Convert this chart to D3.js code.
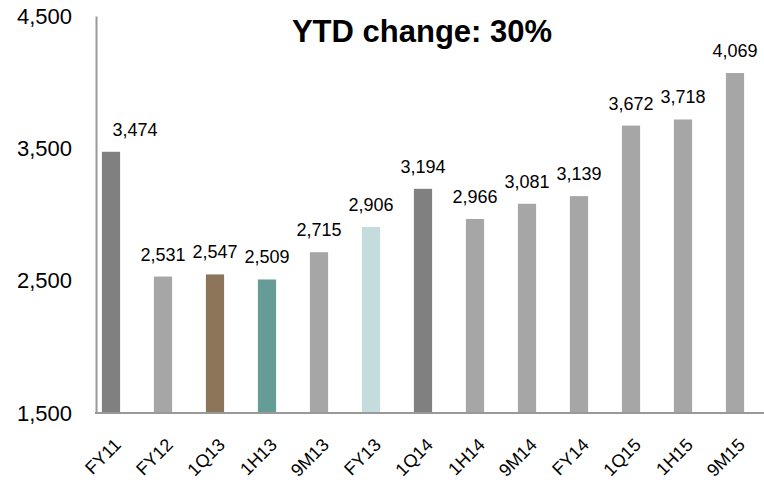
<!DOCTYPE html>
<html>
<head>
<meta charset="utf-8">
<script src="https://cdn.jsdelivr.net/npm/d3@7"></script>
<style>
  body { margin: 0; background: #fff; }
  text { font-family: "Liberation Sans", Arial, sans-serif; }
</style>
</head>
<body>
<div id="chart"></div>
<script>
// data
const periods = ["FY11", "FY12", "1Q13", "1H13", "9M13", "FY13", "1Q14", "1H14", "9M14", "FY14", "1Q15", "1H15", "9M15"];
const values = [3474, 2531, 2547, 2509, 2715, 2906, 3194, 2966, 3081, 3139, 3672, 3718, 4069];
const barColors = ["#808080", "#a6a6a6", "#8c7558", "#669c98", "#a6a6a6", "#c4dcdb", "#808080", "#a6a6a6", "#a6a6a6", "#a6a6a6", "#a6a6a6", "#a6a6a6", "#a6a6a6"];
const yTicks = [1500, 2500, 3500, 4500];
const title = "YTD change: 30%";

const width = 764, height = 480;

const svg = d3.select("#chart")
  .append("svg")
  .attr("width", width)
  .attr("height", height);

// scales
const xScale = d3.scaleBand()
  .domain(periods)
  .range([85, 761])
  .paddingInner(0.65)
  .paddingOuter(0.325);

const yScale = d3.scaleLinear()
  .domain([1500, 4500])
  .range([413, 16]);

// bars
svg.selectAll(".bar")
  .data(periods)
  .join("rect")
  .attr("class", "bar")
  .attr("x", d => xScale(d))
  .attr("width", xScale.bandwidth())
  .attr("y", (d, i) => yScale(values[i]))
  .attr("height", (d, i) => yScale(1500) - yScale(values[i]))
  .attr("fill", (d, i) => barColors[i]);

// value labels (first one nudged right, clear of the axis)
svg.selectAll(".val")
  .data(periods)
  .join("text")
  .attr("class", "val")
  .attr("x", d => xScale(d) + xScale.bandwidth() / 2)
  .attr("dx", (d, i) => i === 0 ? 24 : 0)
  .attr("y", (d, i) => yScale(values[i]) - 16)
  .attr("text-anchor", "middle")
  .style("font-size", "18px")
  .attr("fill", "#000")
  .text((d, i) => d3.format(",")(values[i]));

// y axis
const yAxis = d3.axisLeft(yScale)
  .tickValues(yTicks)
  .tickSize(0)
  .tickPadding(24)
  .tickFormat(d3.format(","));

const gy = svg.append("g")
  .attr("transform", "translate(96,0)")
  .call(yAxis);
gy.select(".domain").attr("stroke", "#999").attr("stroke-width", 2);
gy.selectAll("text").style("font-size", "22px").attr("fill", "#000");

// x axis line
svg.append("line")
  .attr("x1", 95).attr("x2", 764)
  .attr("y1", 413).attr("y2", 413)
  .attr("stroke", "#999").attr("stroke-width", 2);

// rotated category labels
const xLabels = svg.append("g").attr("class", "xlabels");
xLabels.selectAll("g")
  .data(periods)
  .join("g")
  .attr("transform", d => `translate(${xScale(d) + xScale.bandwidth() / 2 + 11},${446}) rotate(-45)`)
  .append("text")
  .attr("x", 0)
  .attr("y", 0)
  .attr("text-anchor", "end")
  .style("font-size", "18px")
  .attr("fill", "#000")
  .text(d => d);

// title
svg.append("text")
  .attr("x", 422)
  .attr("y", 42)
  .attr("text-anchor", "middle")
  .style("font-size", "31px")
  .style("font-weight", "bold")
  .text(title);
</script>
</body>
</html>
